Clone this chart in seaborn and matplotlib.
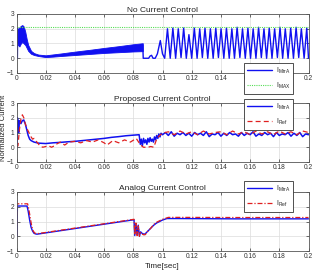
import numpy as np
import pandas as pd
import matplotlib
matplotlib.use("Agg")
import matplotlib.pyplot as plt
import seaborn as sns
from matplotlib.lines import Line2D

# ---------------- data ----------------
# Panel 1: No Current Control
p1_line_t = [0.0, 0.0006, 0.0008, 0.0010]
p1_line_y = [0.0, 0.0, 2.0, 1.0]
p1_band_t = [0.0010, 0.0020, 0.0030, 0.0040, 0.0050, 0.0060, 0.0070, 0.0080, 0.0100, 0.0120,
             0.0150, 0.0200, 0.0250, 0.0300, 0.0400, 0.0500, 0.0600, 0.0700, 0.0800, 0.0865]
p1_band_hi = [2.0, 2.1, 2.2, 2.25, 2.15, 1.8, 1.3, 0.9, 0.5, 0.35,
              0.25, 0.2, 0.26, 0.32, 0.45, 0.57, 0.7, 0.82, 0.95, 1.02]
p1_band_lo = [0.9, 0.8, 1.0, 1.1, 1.0, 0.9, 0.7, 0.5, 0.3, 0.22,
              0.15, 0.08, 0.11, 0.15, 0.22, 0.29, 0.36, 0.41, 0.46, 0.48]
p1_tail_t = [0.0865, 0.0868, 0.0880, 0.0905, 0.0915, 0.0925, 0.0935, 0.0950, 0.0965, 0.0985, 0.1000,
             0.1015, 0.1034, 0.1053, 0.1071, 0.1090, 0.1108, 0.1127, 0.1145, 0.1163, 0.1181,
             0.1200, 0.1218, 0.1237, 0.1255, 0.1273, 0.1291, 0.1310, 0.1328, 0.1347, 0.1365,
             0.1383, 0.1401, 0.1420, 0.1438, 0.1457, 0.1475, 0.1493, 0.1511, 0.1530, 0.1548,
             0.1567, 0.1585, 0.1603, 0.1621, 0.1640, 0.1658, 0.1677, 0.1695, 0.1713, 0.1731,
             0.1750, 0.1768, 0.1787, 0.1805, 0.1823, 0.1841, 0.1860, 0.1878, 0.1897, 0.1915,
             0.1933, 0.1951, 0.1970, 0.1988, 0.2000]
p1_tail_y = [0.9, 0.0, 0.0, 0.0, 0.15, 0.2, 0.0, 0.0, 0.3, 1.2, 0.3,
             0.0, 2.0, 0.0, 2.05, 0.0, 2.0, 0.05, 2.05, 0.0, 1.6,
             0.0, 2.05, 0.0, 2.0, 0.05, 2.05, 0.0, 2.0, 0.0, 2.05,
             0.05, 2.0, 0.0, 2.05, 0.0, 2.0, 0.0, 2.1, 0.05, 2.0,
             0.0, 2.05, 0.0, 2.0, 0.0, 2.1, 0.05, 2.0, 0.0, 2.05,
             0.0, 2.0, 0.05, 2.1, 0.0, 2.0, 0.0, 2.05, 0.0, 2.1,
             0.05, 2.0, 0.0, 2.05, 0.0]
i_max = 2.15

# Panel 2: Proposed Current Control
p2_ia_t = [0.0, 0.0004, 0.0006, 0.0010, 0.0015, 0.0020, 0.0030, 0.0040, 0.0050, 0.0055,
           0.0060, 0.0070, 0.0080, 0.0090, 0.0100, 0.0120, 0.0150, 0.0200, 0.0250, 0.0300,
           0.0350, 0.0400, 0.0450, 0.0500, 0.0550, 0.0600, 0.0650, 0.0700, 0.0750, 0.0800,
           0.0840, 0.0848, 0.0855, 0.0862, 0.0870, 0.0878, 0.0885, 0.0893, 0.0900, 0.0908,
           0.0915, 0.0923, 0.0930, 0.0938, 0.0945, 0.0953, 0.0960, 0.0968, 0.0975, 0.0983,
           0.0990, 0.1000, 0.1020, 0.1040, 0.1060, 0.1080, 0.1100, 0.1120, 0.1140, 0.1160,
           0.1180, 0.1200, 0.1220, 0.1240, 0.1260, 0.1280, 0.1300, 0.1320, 0.1340, 0.1360,
           0.1380, 0.1400, 0.1420, 0.1440, 0.1460, 0.1480, 0.1500, 0.1520, 0.1540, 0.1560,
           0.1580, 0.1600, 0.1620, 0.1640, 0.1660, 0.1680, 0.1700, 0.1720, 0.1740, 0.1760,
           0.1780, 0.1800, 0.1820, 0.1840, 0.1860, 0.1880, 0.1900, 0.1920, 0.1940, 0.1960,
           0.1980, 0.2000]
p2_ia_y = [0.0, 0.0, 2.0, 1.8, 1.0, 1.8, 1.6, 1.8, 1.85, 1.7,
           1.6, 1.2, 0.8, 0.55, 0.45, 0.35, 0.28, 0.25, 0.3, 0.33,
           0.37, 0.4, 0.45, 0.5, 0.55, 0.6, 0.67, 0.72, 0.78, 0.82,
           0.85, 0.2, 0.55, 0.1, 0.6, 0.3, 0.5, 0.2, 0.6, 0.35,
           0.65, 0.4, 0.55, 0.35, 0.7, 0.5, 0.8, 0.6, 0.9, 0.7,
           0.95, 0.85, 1.0, 0.8, 1.05, 0.75, 0.95, 0.85, 1.0, 0.8,
           0.95, 0.75, 1.0, 0.85, 0.95, 0.8, 1.05, 0.72, 0.9, 0.85,
           1.0, 0.75, 0.95, 0.8, 1.0, 0.85, 0.9, 0.75, 1.0, 0.8,
           0.95, 0.85, 1.05, 0.75, 0.9, 0.8, 1.0, 0.85, 0.95, 0.72,
           1.0, 0.8, 0.9, 0.85, 1.0, 0.75, 0.95, 0.8, 1.0, 0.72,
           0.9, 0.85]
p2_ref_t = [0.0, 0.0010, 0.0020, 0.0030, 0.0040, 0.0050, 0.0060, 0.0070, 0.0080, 0.0090,
            0.0100, 0.0110, 0.0120, 0.0140, 0.0160, 0.0180, 0.0200, 0.0220, 0.0240, 0.0260,
            0.0280, 0.0300, 0.0330, 0.0360, 0.0400, 0.0440, 0.0480, 0.0520, 0.0560, 0.0600,
            0.0620, 0.0660, 0.0700, 0.0740, 0.0780, 0.0820, 0.0850, 0.0870, 0.0900, 0.0920,
            0.0940, 0.0960, 0.0980, 0.1000, 0.1040, 0.1080, 0.1120, 0.1160, 0.1200, 0.1240,
            0.1280, 0.1320, 0.1360, 0.1400, 0.1440, 0.1480, 0.1520, 0.1560, 0.1600, 0.1640,
            0.1680, 0.1720, 0.1760, 0.1800, 0.1840, 0.1880, 0.1920, 0.1960, 0.2000]
p2_ref_y = [0.0, 0.1, 1.2, 1.9, 2.2, 2.0, 1.6, 1.3, 1.1, 0.9,
            0.7, 0.55, 0.6, 0.35, 0.1, 0.0, 0.05, 0.1, 0.0, 0.1,
            0.25, 0.35, 0.15, 0.35, 0.4, 0.3, 0.45, 0.35, 0.5, 0.3,
            0.15, 0.45, 0.3, 0.5, 0.35, 0.6, 0.15, 0.0, 0.0, 0.05,
            0.0, 0.55, 0.8, 0.95, 1.05, 0.85, 1.1, 0.9, 1.05, 0.85,
            1.1, 0.9, 1.0, 1.05, 0.85, 1.1, 0.9, 1.05, 0.85, 1.1,
            0.9, 1.05, 0.85, 1.1, 0.9, 1.05, 0.85, 1.1, 1.0]

# Panel 3: Analog Current Control
p3_ia_t = [0.0, 0.0004, 0.0006, 0.0072, 0.0080, 0.0090, 0.0100, 0.0110, 0.0120, 0.0130,
           0.0140, 0.0805, 0.0810, 0.0818, 0.0826, 0.0834, 0.0842, 0.0850, 0.0860, 0.0870,
           0.0880, 0.0890, 0.0900, 0.0920, 0.0940, 0.0960, 0.0980, 0.1000, 0.1030, 0.1100,
           0.1500, 0.2000]
p3_ia_y = [0.0, 0.0, 2.05, 2.05, 1.7, 1.1, 0.6, 0.35, 0.2, 0.16,
           0.14, 1.12, 0.05, 0.85, 0.1, 0.75, 0.0, 0.3, 0.2, 0.15,
           0.15, 0.25, 0.35, 0.55, 0.75, 0.9, 1.0, 1.1, 1.2, 1.2,
           1.18, 1.18]
p3_ref_t = [0.0, 0.0002, 0.0076, 0.0085, 0.0095, 0.0105, 0.0115, 0.0125, 0.0140, 0.0805,
            0.0810, 0.0818, 0.0826, 0.0834, 0.0842, 0.0850, 0.0860, 0.0870, 0.0880, 0.0890,
            0.0900, 0.0920, 0.0940, 0.0960, 0.0980, 0.1000, 0.1040, 0.1100, 0.1500, 0.2000]
p3_ref_y = [0.0, 2.2, 2.2, 1.8, 1.2, 0.65, 0.35, 0.22, 0.17, 1.15,
            0.1, 0.9, 0.05, 0.7, 0.0, 0.25, 0.15, 0.1, 0.1, 0.2,
            0.35, 0.55, 0.8, 0.95, 1.05, 1.15, 1.28, 1.28, 1.27, 1.27]

titles = ["No Current Control", "Proposed Current Control", "Analog Current Control"]
x_ticks = [0, 0.02, 0.04, 0.06, 0.08, 0.1, 0.12, 0.14, 0.16, 0.18, 0.2]
x_labels = ["0", "0.02", "0.04", "0.06", "0.08", "0.1", "0.12", "0.14", "0.16", "0.18", "0.2"]
y_ticks = [-1, 0, 1, 2, 3]

# ---------------- style ----------------
sns.set_style("whitegrid", {"grid.color": "#dcdcdc", "axes.edgecolor": "#444444"})
plt.rcParams["font.family"] = ["Liberation Sans", "DejaVu Sans"]
plt.rcParams["mathtext.fontset"] = "custom"
plt.rcParams["mathtext.rm"] = "Liberation Sans"
plt.rcParams["mathtext.it"] = "Liberation Sans"

BLUE = "#1010f0"
RED = "#e02020"
GREEN = "#55dd55"

W, H = 316, 272
fig = plt.figure(figsize=(W / 100, H / 100), dpi=100)

left_px, right_px = 16.5, 308.5
panels_px = [(14, 73), (103, 162), (192, 251)]
axes = []
for top, bot in panels_px:
    ax = fig.add_axes([left_px / W, 1 - bot / H, (right_px - left_px) / W, (bot - top) / H])
    axes.append(ax)

lw = 1.0
# Panel 1
ax = axes[0]
ax.fill_between(p1_band_t, p1_band_lo, p1_band_hi, color=BLUE, linewidth=0.6, edgecolor=BLUE)
sns.lineplot(x=p1_line_t, y=p1_line_y, ax=ax, color=BLUE, lw=lw, estimator=None, sort=False)
sns.lineplot(x=p1_tail_t, y=p1_tail_y, ax=ax, color=BLUE, lw=lw, estimator=None, sort=False)
ax.axhline(i_max, color=GREEN, lw=0.8, ls=(0, (1, 1)))
h1 = [Line2D([], [], color=BLUE, lw=1.0), Line2D([], [], color=GREEN, lw=0.8, ls=(0, (1, 1)))]
l1 = [r"$\mathrm{I}_{\mathrm{MtrA}}$", r"$\mathrm{I}_{\mathrm{MAX}}$"]

# Panel 2
ax = axes[1]
sns.lineplot(x=p2_ia_t, y=p2_ia_y, ax=ax, color=BLUE, lw=1.1, estimator=None, sort=False)
sns.lineplot(x=p2_ref_t, y=p2_ref_y, ax=ax, color=RED, lw=0.9, estimator=None, sort=False)
ax.lines[-1].set_linestyle((0, (4, 2.5)))
h2 = [Line2D([], [], color=BLUE, lw=1.0), Line2D([], [], color=RED, lw=0.9, ls=(0, (4, 2.5)))]
l2 = [r"$\mathrm{I}_{\mathrm{MtrA}}$", r"$\mathrm{I}_{\mathrm{Ref}}$"]

# Panel 3
ax = axes[2]
sns.lineplot(x=p3_ia_t, y=p3_ia_y, ax=ax, color=BLUE, lw=1.0, estimator=None, sort=False)
sns.lineplot(x=p3_ref_t, y=p3_ref_y, ax=ax, color=RED, lw=0.9, estimator=None, sort=False)
ax.lines[-1].set_linestyle((0, (4, 1.5, 1, 1.5)))
h3 = [Line2D([], [], color=BLUE, lw=1.0), Line2D([], [], color=RED, lw=0.9, ls=(0, (4, 1.5, 1, 1.5)))]
l3 = l2

legend_pos = [(0.779, 0.17), (0.779, 1.07), (0.779, 1.19)]
for ax, title, h, l, pos in zip(axes, titles, [h1, h2, h3], [l1, l2, l3], legend_pos):
    ax.set_xlim(0, 0.2)
    ax.set_ylim(-1, 3)
    ax.set_xticks(x_ticks)
    ax.set_xticklabels(x_labels)
    ax.set_yticks(y_ticks)
    ax.set_xlabel("")
    ax.set_ylabel("")
    ax.tick_params(labelsize=4.8, length=2, width=0.5, direction="in", pad=1.5,
                   colors="#333333", top=True, right=True, bottom=True, left=True)
    for s in ax.spines.values():
        s.set_linewidth(0.6)
        s.set_color("#555555")
    ax.grid(True, lw=0.5, color="#dcdcdc")
    ax.set_title(title, fontsize=6, pad=1.5, color="#222222")
    leg = ax.legend(h, l, loc="upper left", bbox_to_anchor=pos, fontsize=5,
                    handlelength=3.6, handletextpad=0.6, labelspacing=0.7,
                    borderpad=0.4, borderaxespad=0, frameon=True, fancybox=False,
                    framealpha=1, edgecolor="#333333")
    leg.get_frame().set_linewidth(0.6)
    leg.set_zorder(10)

fig.text(3.5 / W, 1 - 128 / H, "Normalized Current", rotation=90, fontsize=5.5,
         ha="center", va="center", color="#222222")
fig.text((left_px + right_px) / 2 / W, 1 - 266 / H, "Time[sec]", fontsize=5.8,
         ha="center", va="center", color="#222222")

fig.savefig("out.png", dpi=100)
